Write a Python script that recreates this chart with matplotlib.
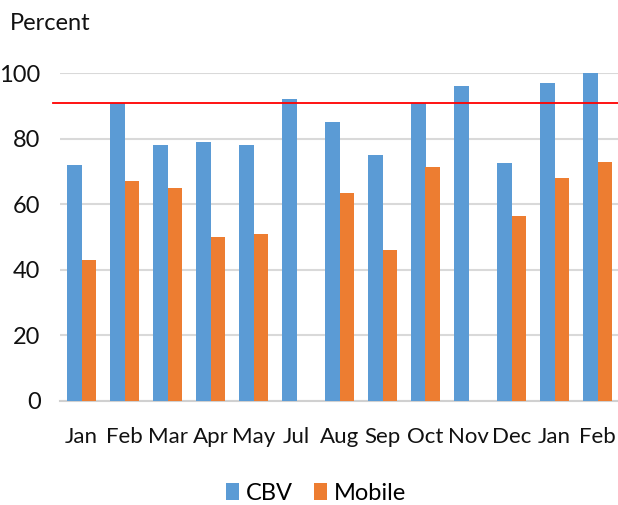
import matplotlib
matplotlib.use("Agg")
import matplotlib.pyplot as plt
import numpy as np

plt.rcParams['font.family'] = ['Lato', 'DejaVu Sans']

months = ["Jan", "Feb", "Mar", "Apr", "May", "Jul", "Aug", "Sep",
          "Oct", "Nov", "Dec", "Jan", "Feb"]
cbv = [72, 91, 78, 79, 78, 92, 85, 75, 91, 96, 72.5, 97, 100]
mobile = [43, 67, 65, 50, 51, np.nan, 63.5, 46, 71.5, np.nan, 56.5, 68, 73]
target = 91

blue = "#5B9BD5"
orange = "#ED7D31"

fig = plt.figure(figsize=(6.18, 5.05), dpi=100)
ax = fig.add_axes([60 / 618, 1 - 400.7 / 505, 559 / 618, (400.7 - 73.3) / 505])

x = np.arange(len(months))
w = 0.33
ax.bar(x - w / 2, cbv, w, color=blue, label="CBV", zorder=3)
ax.bar(x + w / 2, mobile, w, color=orange, label="Mobile", zorder=3)

ax.axhline(target, xmin=-0.013, xmax=1, color="#FF0000", lw=1.3, zorder=4, clip_on=False)

ax.set_xlim(-0.5, len(months) - 0.5)
ax.set_ylim(0, 100)
ax.set_yticks(range(0, 101, 20))
ax.set_xticks(x)
ax.set_xticklabels(months)
ax.tick_params(axis="both", length=0, labelsize=17, colors="#111111")
ax.tick_params(axis="x", labelsize=16, pad=19)
ax.tick_params(axis="y", pad=14)
ax.grid(axis="y", color="#D9D9D9", lw=1.5, zorder=0)
for s in ["top", "right", "left"]:
    ax.spines[s].set_visible(False)
ax.spines["bottom"].set_color("#D0D0D0")
ax.spines["bottom"].set_linewidth(1.5)

fig.text(10 / 618, 1 - 24 / 505, "Percent", fontsize=17, va="center", ha="left",
         color="#111111")

fig.legend(loc="center", bbox_to_anchor=(316 / 618, 1 - 493 / 505), ncol=2,
           frameon=False, fontsize=17, handlelength=0.55, handleheight=0.7,
           handletextpad=0.3, columnspacing=0.9)

fig.savefig("out.png", dpi=100)
